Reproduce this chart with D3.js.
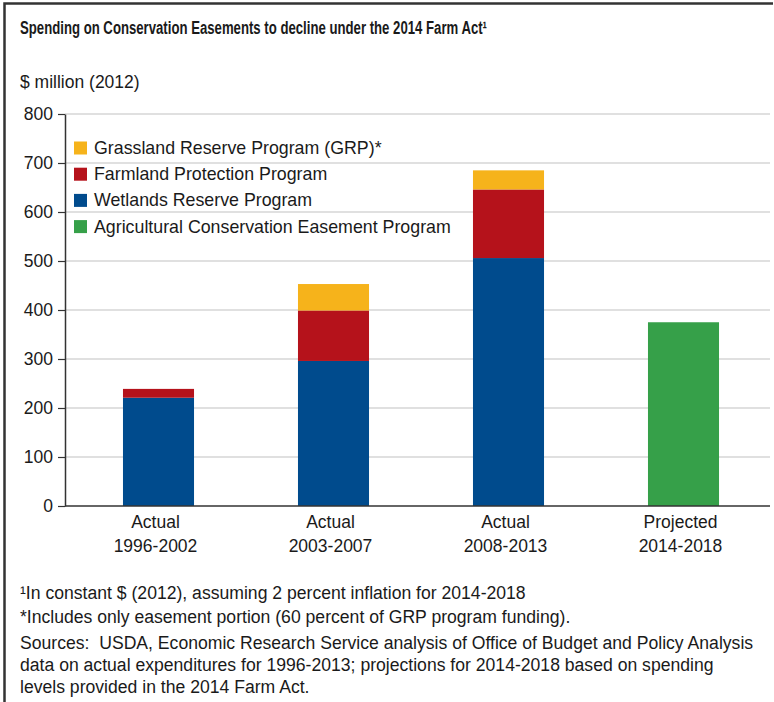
<!DOCTYPE html>
<html>
<head>
<meta charset="utf-8">
<script src="https://cdn.jsdelivr.net/npm/d3@7"></script>
<style>
  body { margin: 0; background: #fff; }
  svg text { font-family: "Liberation Sans", Arial, Helvetica, sans-serif; fill: #1a1a1a; white-space: pre; }
</style>
</head>
<body>
<svg id="chart" width="774" height="702"></svg>
<script>
// chart values, $ million (2012)
const periodsTop = ['Actual', 'Actual', 'Actual', 'Projected']
const periodsBottom = ['1996-2002', '2003-2007', '2008-2013', '2014-2018']
const wetlands = [221, 296, 506, 0]
const farmland = [18, 103, 140, 0]
const grassland = [0, 54, 39, 0]
const aceProgram = [0, 0, 0, 375]
const yTicks = [0, 100, 200, 300, 400, 500, 600, 700, 800]
const legendLabels = [
  'Grassland Reserve Program (GRP)*',
  'Farmland Protection Program',
  'Wetlands Reserve Program',
  'Agricultural Conservation Easement Program'
]
const notes = [
  '\u00b9In constant $ (2012), assuming 2 percent inflation for 2014-2018',
  '*Includes only easement portion (60 percent of GRP program funding).',
  'Sources:  USDA, Economic Research Service analysis of Office of Budget and Policy Analysis',
  'data on actual expenditures for 1996-2013; projections for 2014-2018 based on spending',
  'levels provided in the 2014 Farm Act.'
]

const colors = {
  wetlands: '#004b8d',
  farmland: '#b5121b',
  grassland: '#f6b31b',
  ace: '#36a049'
}

const svg = d3.select('#chart')
const plot = { left: 65, right: 770, top: 114, bottom: 506 }

// frame
svg.append('path')
  .attr('d', 'M4.5,702V3.5H773')
  .attr('fill', 'none')
  .attr('stroke', '#333')
  .attr('stroke-width', 2.5)

// title
svg.append('text')
  .attr('x', 20).attr('y', 34)
  .attr('font-size', 18)
  .attr('font-weight', 'bold')
  .attr('textLength', 467)
  .attr('lengthAdjust', 'spacingAndGlyphs')
  .text('Spending on Conservation Easements to decline under the 2014 Farm Act\u00b9')

svg.append('text')
  .attr('x', 20).attr('y', 88)
  .attr('font-size', 17.5)
  .text('$ million (2012)')

// scales
const idx = d3.range(periodsBottom.length)
const x = d3.scaleBand()
  .domain(idx)
  .range([71, plot.right + 1])
  .paddingInner(0.594)
  .paddingOuter(0.297)
const y = d3.scaleLinear().domain([0, 800]).range([plot.bottom, plot.top])

// gridlines
svg.append('g')
  .selectAll('line')
  .data(yTicks.filter(d => d > 0))
  .join('line')
  .attr('x1', plot.left).attr('x2', plot.right)
  .attr('y1', d => y(d)).attr('y2', d => y(d))
  .attr('stroke', '#d6d6d6')
  .attr('stroke-width', 1.5)

// legend
const legendColors = [colors.grassland, colors.farmland, colors.wetlands, colors.ace]
const legend = svg.append('g')
  .selectAll('g')
  .data(legendLabels)
  .join('g')
  .attr('transform', (d, i) => `translate(74,${148 + i * 26.2})`)
legend.append('rect')
  .attr('x', 0).attr('y', -6.5)
  .attr('width', 13).attr('height', 13)
  .attr('fill', (d, i) => legendColors[i])
legend.append('text')
  .attr('x', 20).attr('y', 6)
  .attr('font-size', 17.8)
  .text(d => d)

// stacked bars
const rows = idx.map(i => ({
  i,
  wetlands: wetlands[i],
  farmland: farmland[i],
  grassland: grassland[i],
  ace: aceProgram[i]
}))
const stack = d3.stack().keys(['wetlands', 'farmland', 'grassland', 'ace'])
svg.append('g')
  .selectAll('g')
  .data(stack(rows))
  .join('g')
  .attr('fill', d => colors[d.key])
  .selectAll('rect')
  .data(d => d.filter(s => s[1] > s[0]))
  .join('rect')
  .attr('x', d => x(d.data.i))
  .attr('width', x.bandwidth())
  .attr('y', d => y(d[1]))
  .attr('height', d => y(d[0]) - y(d[1]))

// y axis
const yAxis = svg.append('g')
  .attr('transform', `translate(${plot.left},0)`)
  .call(d3.axisLeft(y).tickValues(yTicks).tickSize(7).tickPadding(5).tickSizeOuter(0))
yAxis.select('.domain').attr('stroke', '#333').attr('stroke-width', 1.5)
yAxis.selectAll('.tick line').attr('stroke', '#333').attr('stroke-width', 1.2)
yAxis.selectAll('.tick text')
  .attr('font-size', 17.5)
  .attr('font-family', '"Liberation Sans", Arial, sans-serif')
  .attr('fill', '#1a1a1a')

// baseline
svg.append('line')
  .attr('x1', plot.left).attr('x2', plot.right)
  .attr('y1', y(0)).attr('y2', y(0))
  .attr('stroke', '#333')
  .attr('stroke-width', 1.5)

// x labels
const xl = svg.append('g')
  .selectAll('text')
  .data(idx)
  .join('text')
  .attr('text-anchor', 'middle')
  .attr('font-size', 17.5)
xl.append('tspan')
  .attr('x', d => x(d) + x.bandwidth() / 2 - 3)
  .attr('y', 528)
  .text(d => periodsTop[d])
xl.append('tspan')
  .attr('x', d => x(d) + x.bandwidth() / 2 - 3)
  .attr('y', 552)
  .text(d => periodsBottom[d])

// notes
const noteY = [599, 623, 649, 671, 693]
svg.append('g')
  .selectAll('text')
  .data(notes)
  .join('text')
  .attr('x', 20)
  .attr('y', (d, i) => noteY[i])
  .attr('font-size', 17.6)
  .text(d => d)
</script>
</body>
</html>
